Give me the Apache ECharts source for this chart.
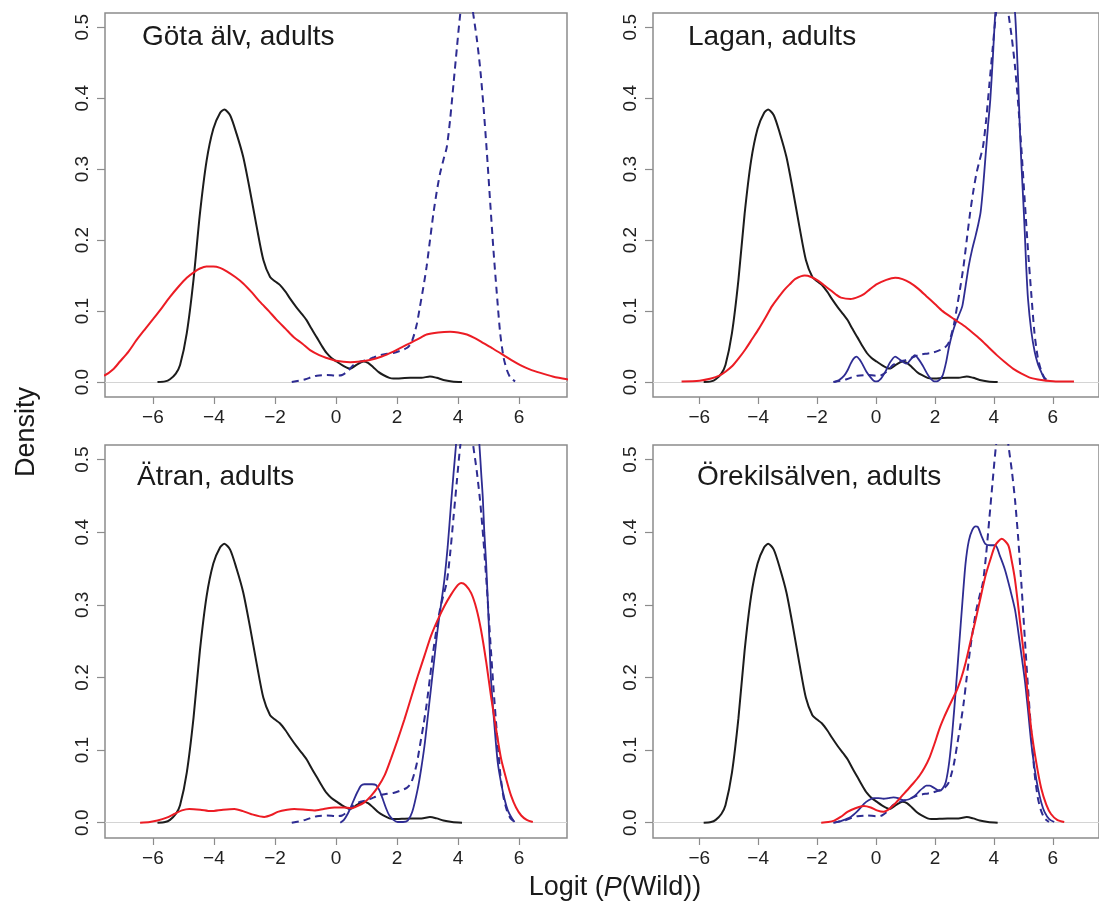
<!DOCTYPE html>
<html><head><meta charset="utf-8">
<script src="https://cdn.jsdelivr.net/npm/echarts@6/dist/echarts.min.js"></script>
<style>html,body{margin:0;padding:0;background:#fff}#c{width:1099px;height:906px}</style>
</head><body><div id="c"></div><script>
// ---------- DATA (x = logit P(Wild), y = density) ----------
const xTicks = [-6, -4, -2, 0, 2, 4, 6];
const yTicks = [0, 0.1, 0.2, 0.3, 0.4, 0.5];
const panelTitles = ['Göta älv, adults', 'Lagan, adults', 'Ätran, adults', 'Örekilsälven, adults'];

// black: reference (same in every panel)
const hatcheryRef = [[-5.85,0],[-5.6,0.001],[-5.44,0.004],[-5.25,0.012],[-5.11,0.024],[-4.89,0.069],[-4.67,0.144],[-4.46,0.237],[-4.24,0.312],[-4.02,0.357],[-3.80,0.379],[-3.66,0.384],[-3.47,0.376],[-3.26,0.35],[-3.04,0.317],[-2.82,0.27],[-2.60,0.219],[-2.38,0.172],[-2.16,0.148],[-2.0,0.142],[-1.84,0.137],[-1.65,0.127],[-1.51,0.118],[-1.29,0.105],[-1.1,0.095],[-0.96,0.087],[-0.8,0.075],[-0.63,0.063],[-0.45,0.05],[-0.31,0.041],[-0.15,0.034],[0.02,0.029],[0.2,0.024],[0.46,0.019],[0.7,0.025],[0.9,0.029],[1.05,0.027],[1.22,0.021],[1.4,0.014],[1.55,0.010],[1.75,0.006],[1.88,0.005],[2.43,0.006],[2.8,0.006],[3.08,0.008],[3.3,0.006],[3.52,0.003],[3.8,0.001],[4.13,0]];

// dashed blue: wild reference (same in every panel)
const wildRef = [[-1.45,0],[-1.2,0.002],[-1.0,0.004],[-0.8,0.007],[-0.63,0.009],[-0.3,0.01],[0.02,0.009],[0.2,0.01],[0.4,0.016],[0.57,0.024],[0.8,0.029],[1.01,0.031],[1.25,0.035],[1.44,0.038],[1.7,0.04],[1.88,0.041],[2.1,0.044],[2.32,0.048],[2.45,0.054],[2.54,0.064],[2.65,0.082],[2.75,0.106],[2.86,0.133],[2.97,0.163],[3.08,0.2],[3.19,0.237],[3.3,0.268],[3.41,0.294],[3.52,0.313],[3.63,0.331],[3.74,0.37],[3.85,0.42],[3.96,0.47],[4.07,0.518],[4.18,0.55],[4.3,0.565],[4.4,0.55],[4.5,0.518],[4.61,0.485],[4.72,0.444],[4.83,0.39],[4.94,0.326],[5.05,0.255],[5.16,0.186],[5.27,0.125],[5.38,0.069],[5.49,0.035],[5.6,0.017],[5.72,0.006],[5.87,0.001]];

// red: adults per river
const adultsGota = [[-7.9,0.006],[-7.56,0.010],[-7.3,0.018],[-7.08,0.029],[-6.8,0.043],[-6.54,0.059],[-6.25,0.075],[-5.99,0.089],[-5.7,0.105],[-5.44,0.12],[-5.15,0.135],[-4.89,0.147],[-4.65,0.155],[-4.46,0.16],[-4.25,0.163],[-4.02,0.163],[-3.8,0.161],[-3.58,0.156],[-3.3,0.148],[-3.04,0.139],[-2.75,0.126],[-2.49,0.113],[-2.2,0.1],[-1.95,0.088],[-1.65,0.075],[-1.40,0.064],[-1.1,0.054],[-0.85,0.045],[-0.55,0.038],[-0.31,0.034],[0,0.03],[0.46,0.028],[0.8,0.029],[1.11,0.031],[1.5,0.036],[1.88,0.043],[2.15,0.049],[2.43,0.055],[2.7,0.061],[2.97,0.067],[3.35,0.07],[3.74,0.071],[4.0,0.07],[4.29,0.067],[4.55,0.062],[4.83,0.055],[5.15,0.047],[5.49,0.038],[5.75,0.031],[6.04,0.024],[6.35,0.018],[6.70,0.013],[7.1,0.008],[7.57,0.004],[7.9,0.002]];
const adultsLagan = [[-6.6,0.001],[-5.99,0.002],[-5.6,0.005],[-5.32,0.009],[-5.1,0.015],[-4.87,0.023],[-4.65,0.034],[-4.42,0.047],[-4.2,0.061],[-3.98,0.075],[-3.75,0.091],[-3.53,0.107],[-3.3,0.12],[-3.09,0.131],[-2.9,0.139],[-2.75,0.145],[-2.42,0.15],[-2.2,0.148],[-1.97,0.143],[-1.75,0.136],[-1.53,0.129],[-1.35,0.123],[-1.19,0.119],[-0.86,0.117],[-0.6,0.12],[-0.41,0.124],[-0.2,0.131],[0.03,0.138],[0.35,0.144],[0.65,0.147],[0.9,0.145],[1.15,0.14],[1.45,0.131],[1.71,0.121],[2.0,0.11],[2.26,0.1],[2.5,0.093],[2.71,0.087],[3.0,0.079],[3.27,0.07],[3.55,0.06],[3.82,0.049],[4.1,0.038],[4.38,0.028],[4.65,0.019],[4.94,0.012],[5.25,0.006],[5.61,0.003],[6.1,0.001],[6.72,0.001]];
const adultsAtran = [[-6.42,0],[-6.1,0.001],[-5.85,0.003],[-5.55,0.007],[-5.30,0.012],[-5.05,0.017],[-4.81,0.019],[-4.45,0.018],[-4.10,0.016],[-3.7,0.018],[-3.33,0.019],[-3.05,0.016],[-2.79,0.012],[-2.35,0.008],[-2.1,0.011],[-1.91,0.015],[-1.6,0.018],[-1.37,0.019],[-1.0,0.018],[-0.71,0.017],[-0.4,0.019],[-0.05,0.021],[0.25,0.021],[0.49,0.020],[0.7,0.023],[0.93,0.028],[1.15,0.037],[1.37,0.049],[1.6,0.066],[1.80,0.088],[2.02,0.114],[2.24,0.142],[2.46,0.172],[2.68,0.202],[2.9,0.23],[3.11,0.257],[3.33,0.279],[3.55,0.298],[3.77,0.314],[3.99,0.327],[4.10,0.33],[4.25,0.327],[4.43,0.316],[4.6,0.295],[4.75,0.266],[4.92,0.222],[5.08,0.174],[5.25,0.128],[5.41,0.088],[5.58,0.06],[5.74,0.037],[5.9,0.021],[6.07,0.010],[6.25,0.004],[6.45,0.001]];
const adultsOrekil = [[-1.86,0],[-1.62,0.001],[-1.42,0.003],[-1.2,0.008],[-0.97,0.015],[-0.7,0.02],[-0.41,0.023],[-0.18,0.021],[0.03,0.017],[0.26,0.015],[0.42,0.018],[0.59,0.024],[0.8,0.033],[1.04,0.044],[1.26,0.054],[1.48,0.065],[1.65,0.076],[1.82,0.09],[1.98,0.108],[2.15,0.129],[2.32,0.146],[2.49,0.161],[2.62,0.172],[2.76,0.184],[2.9,0.2],[3.04,0.22],[3.2,0.248],[3.38,0.279],[3.55,0.31],[3.71,0.339],[3.88,0.362],[4.05,0.382],[4.27,0.391],[4.49,0.382],[4.6,0.362],[4.72,0.334],[4.88,0.28],[5.05,0.22],[5.16,0.172],[5.27,0.129],[5.44,0.083],[5.61,0.047],[5.78,0.025],[5.94,0.012],[6.15,0.004],[6.39,0.001]];

// solid blue: wild per river (no curve for Göta älv)
const wildLagan = [[-1.42,0],[-1.25,0.003],[-1.08,0.009],[-0.96,0.017],[-0.86,0.026],[-0.76,0.033],[-0.66,0.036],[-0.56,0.032],[-0.47,0.026],[-0.33,0.015],[-0.19,0.007],[-0.08,0.002],[0.03,0.001],[0.17,0.005],[0.31,0.014],[0.48,0.028],[0.65,0.036],[0.8,0.032],[0.93,0.028],[1.04,0.026],[1.18,0.032],[1.32,0.038],[1.45,0.032],[1.59,0.023],[1.78,0.009],[1.98,0.001],[2.12,0.002],[2.26,0.009],[2.38,0.028],[2.49,0.052],[2.6,0.07],[2.71,0.084],[2.82,0.095],[2.93,0.107],[3.04,0.135],[3.15,0.164],[3.27,0.188],[3.38,0.206],[3.47,0.222],[3.55,0.239],[3.63,0.272],[3.71,0.314],[3.8,0.36],[3.88,0.398],[3.97,0.46],[4.05,0.52],[4.2,0.59],[4.38,0.62],[4.55,0.59],[4.72,0.52],[4.78,0.47],[4.83,0.42],[4.88,0.36],[4.94,0.304],[5.0,0.255],[5.05,0.211],[5.1,0.162],[5.16,0.117],[5.27,0.072],[5.39,0.042],[5.5,0.025],[5.61,0.014],[5.7,0.006],[5.78,0.002]];
const wildAtran = [[0.14,0],[0.26,0.004],[0.38,0.012],[0.49,0.022],[0.60,0.033],[0.71,0.043],[0.82,0.051],[0.93,0.053],[1.04,0.053],[1.18,0.053],[1.31,0.052],[1.42,0.045],[1.53,0.033],[1.64,0.02],[1.75,0.010],[1.88,0.004],[2.02,0.001],[2.2,0.001],[2.35,0.003],[2.5,0.015],[2.68,0.047],[2.79,0.074],[2.90,0.106],[3.0,0.143],[3.11,0.184],[3.22,0.225],[3.33,0.266],[3.44,0.3],[3.55,0.334],[3.66,0.38],[3.77,0.439],[3.85,0.48],[3.93,0.519],[4.1,0.62],[4.3,0.68],[4.5,0.63],[4.7,0.52],[4.76,0.48],[4.81,0.448],[4.86,0.4],[4.92,0.357],[5.0,0.28],[5.08,0.197],[5.19,0.135],[5.30,0.083],[5.41,0.055],[5.52,0.033],[5.63,0.017],[5.74,0.008],[5.85,0.001]];
const wildOrekil = [[-1.42,0],[-1.15,0.003],[-0.86,0.008],[-0.63,0.016],[-0.41,0.026],[-0.25,0.031],[-0.08,0.034],[0.08,0.034],[0.26,0.033],[0.42,0.034],[0.59,0.035],[0.75,0.034],[0.93,0.031],[1.1,0.032],[1.26,0.035],[1.37,0.039],[1.48,0.044],[1.6,0.048],[1.71,0.051],[1.82,0.051],[1.93,0.049],[2.05,0.046],[2.15,0.044],[2.26,0.047],[2.37,0.056],[2.49,0.085],[2.60,0.129],[2.71,0.184],[2.82,0.243],[2.93,0.302],[3.04,0.357],[3.15,0.388],[3.27,0.403],[3.38,0.408],[3.46,0.407],[3.58,0.395],[3.71,0.384],[3.88,0.382],[4.05,0.382],[4.2,0.368],[4.38,0.348],[4.55,0.322],[4.72,0.293],[4.88,0.248],[5.05,0.197],[5.16,0.155],[5.27,0.11],[5.38,0.076],[5.50,0.047],[5.61,0.028],[5.72,0.015],[5.88,0.005],[6.05,0.001]];

const xMin = -7.57, xMax = 7.57, yMin = -0.021, yMax = 0.52;

// ---------- CHART ----------
const FONT = '"Liberation Sans", Arial, Helvetica, sans-serif';
const RED = '#ec1c24', BLUE = '#2e2c92', BLACK = '#1c1c1c', GRAY = '#8c8c8c';

const gridRects = [
  {left: 105, top: 13, width: 462, height: 384},
  {left: 653, top: 13, width: 452, height: 384},
  {left: 105, top: 445, width: 462, height: 393},
  {left: 653, top: 445, width: 452, height: 393}
];
const titlePos = [[142, 23], [688, 23], [137, 463], [697, 463]];

const panels = [
  {red: adultsGota, blue: null},
  {red: adultsLagan, blue: wildLagan},
  {red: adultsAtran, blue: wildAtran},
  {red: adultsOrekil, blue: wildOrekil}
];

const grid = [], xAxis = [], yAxis = [], series = [], title = [];
panels.forEach((p, i) => {
  grid.push(Object.assign({show: true, borderColor: GRAY, borderWidth: 1.5, backgroundColor: 'transparent', containLabel: false}, gridRects[i]));
  xAxis.push({
    type: 'value', gridIndex: i, min: xMin, max: xMax, position: 'bottom',
    axisLine: {show: false, onZero: false},
    axisTick: {show: true, customValues: xTicks, length: 7, lineStyle: {color: GRAY, width: 1.2}},
    axisLabel: {show: true, customValues: xTicks, margin: 11, color: '#222', fontSize: 19, fontFamily: FONT,
      formatter: v => String(v).replace('-', '\u2212')},
    splitLine: {show: false}
  });
  yAxis.push({
    type: 'value', gridIndex: i, min: yMin, max: yMax, position: 'left',
    axisLine: {show: false, onZero: false},
    axisTick: {show: true, customValues: yTicks, length: 8, lineStyle: {color: GRAY, width: 1.2}},
    axisLabel: {show: true, customValues: yTicks, rotate: 90, margin: 13, color: '#222', fontSize: 19, fontFamily: FONT,
      formatter: v => v.toFixed(1)},
    splitLine: {show: false}
  });
  title.push({text: panelTitles[i], left: titlePos[i][0], top: titlePos[i][1], padding: 0,
    textStyle: {fontSize: 28, fontWeight: 'normal', color: '#1a1a1a', fontFamily: FONT, lineHeight: 28}});
  const base = {type: 'line', xAxisIndex: i, yAxisIndex: i, showSymbol: false, symbol: 'none', smooth: 0.25, clip: true, silent: true};
  series.push(Object.assign({}, base, {name: 'ref' + i, data: hatcheryRef, z: 3,
    lineStyle: {color: BLACK, width: 2},
    markLine: {silent: true, symbol: 'none', label: {show: false}, z: 1,
      lineStyle: {color: '#d4d4d4', type: 'solid', width: 1.2}, data: [{yAxis: 0}]}}));
  series.push(Object.assign({}, base, {name: 'wild' + i, data: wildRef, z: 4,
    lineStyle: {color: BLUE, width: 2, type: [7, 5]}}));
  if (p.blue) series.push(Object.assign({}, base, {name: 'wildRiver' + i, data: p.blue, z: 5,
    lineStyle: {color: BLUE, width: 1.8}}));
  series.push(Object.assign({}, base, {name: 'adults' + i, data: p.red, z: 6,
    lineStyle: {color: RED, width: 2}}));
});

const chart = echarts.init(document.getElementById('c'), null, {renderer: 'canvas'});
chart.setOption({
  animation: false,
  backgroundColor: '#fff',
  title, grid, xAxis, yAxis, series,
  graphic: [
    {type: 'text', x: 615, y: 888, style: {
      rich: {n: {fontSize: 27, fontFamily: FONT, fill: '#1a1a1a'}, it: {fontSize: 27, fontFamily: FONT, fontStyle: 'italic', fill: '#1a1a1a'}},
      text: '{n|Logit (}{it|P}{n|(Wild))}', align: 'center', verticalAlign: 'middle'}},
    {type: 'text', x: 27, y: 432, rotation: Math.PI / 2, style: {
      text: 'Density', font: '27px ' + FONT, fill: '#1a1a1a', align: 'center', verticalAlign: 'middle'}}
  ]
});
</script></body></html>
